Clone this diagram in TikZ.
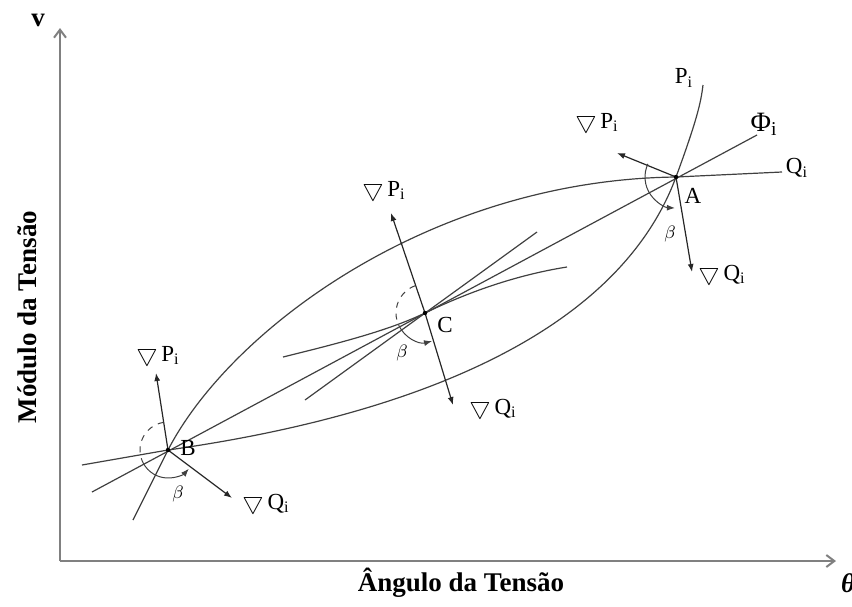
\documentclass[tikz,border=0pt]{standalone}
\usepackage{amsmath,amssymb}
\usepackage{fontspec}
\setmainfont{Liberation Serif}
\usetikzlibrary{arrows.meta,calc}

\newcommand{\gradlbl}[1]{{\large$\bigtriangledown$}\,#1\textsubscript{i}}

\begin{document}
\begin{tikzpicture}[x=0.5pt,y=-0.5pt,
  axis/.style={draw=black!50, line width=1pt, -{Straight Barb[length=4pt,width=6pt]}},
  curve/.style={draw=black!75, line width=0.6pt},
  gradarr/.style={draw=black!85, line width=0.6pt, -{Latex[length=4pt,width=3pt]}},
  ang/.style={draw=black!75, line width=0.5pt},
  angarr/.style={ang, -{Latex[length=4pt,width=3pt]}},
  lbl/.style={font=\fontsize{11.5}{13}\selectfont, inner sep=1pt},
  beta/.style={font=\fontsize{9}{10}\selectfont, inner sep=1pt},
  axlbl/.style={font=\fontsize{13.5}{16}\selectfont\bfseries, inner sep=1pt},
]
\useasboundingbox (0,0) rectangle (852,606);

% axes
\coordinate (O) at (60,561);
\coordinate (ytop) at (60,28);
\coordinate (xend) at (836,561);
\draw[axis] (O) -- (ytop);
\draw[axis] (O) -- (xend);
\node[axlbl] (v) at (38,20) {v};
\node[axlbl] (theta) at (848,583) {\itshape θ};
\node[axlbl, rotate=90] (ylab) at (27,317) {Módulo da Tensão};
\node[axlbl] (xlab) at (461,583) {Ângulo da Tensão};

% operating points
\coordinate (A) at (676,177);
\coordinate (B) at (168,450);
\coordinate (C) at (425,313);

% curves Q_i (upper) and P_i (lower), line Phi_i
\coordinate (q0) at (133,520);
\coordinate (q1) at (782,172);
\draw[curve] (q0) -- (B) .. controls (230,330) and (430,180) .. (A)
  .. controls (729,174) .. (q1);
\coordinate (p0) at (82,465);
\coordinate (p1) at (703,85);
\draw[curve] (p0) -- (B) .. controls (360,423) and (610,355) .. (A)
  .. controls (697,120) and (701,102) .. (p1);
\coordinate (phi0) at (92,492);
\coordinate (phi1) at (757,135);
\draw[curve] (phi0) -- (phi1);

% tangents at C
\coordinate (tc0) at (305,400);
\coordinate (tc1) at (537,232);
\draw[curve] (tc0) -- (tc1);
\coordinate (cc0) at (283,357);
\coordinate (cc1) at (567,267);
\draw[curve] (cc0) .. controls (340,343) and (390,330) .. (C)
  .. controls (460,296) and (510,276) .. (cc1);

% gradients
\coordinate (PA) at (617,153);
\coordinate (QA) at (692,272);
\coordinate (PB) at (156,373);
\coordinate (QB) at (232,498);
\coordinate (PC) at (391,213);
\coordinate (QC) at (453,405);
\draw[gradarr] (A) -- (PA);
\draw[gradarr] (A) -- (QA);
\draw[gradarr] (B) -- (PB);
\draw[gradarr] (B) -- (QB);
\draw[gradarr] (C) -- (PC);
\draw[gradarr] (C) -- (QC);

% angles beta
\draw[angarr] (A) ++(205:31) arc[start angle=205, end angle=92, radius=31];
\draw[ang, dashed] (B) ++(261:28) arc[start angle=261, end angle=152, radius=28];
\draw[angarr] (B) ++(152:28) arc[start angle=152, end angle=42, radius=28];
\draw[ang, dashed] (C) ++(250:29) arc[start angle=250, end angle=155, radius=29];
\draw[angarr] (C) ++(155:29) arc[start angle=155, end angle=76, radius=29];

\foreach \p in {A,B,C}
  \fill (\p) circle[radius=2.2];

% labels
\node[lbl] (lA) at (693,196) {A};
\node[lbl] (lB) at (188,448) {B};
\node[lbl] (lC) at (445,325) {C};
\node[beta] (bA) at (670,234) {$\beta$};
\node[beta] (bB) at (178,494) {$\beta$};
\node[beta] (bC) at (402,353) {$\beta$};
\node[lbl] (lPA) at (597,122) {\gradlbl{P}};
\node[lbl] (lQA) at (722,274) {\gradlbl{Q}};
\node[lbl] (lPB) at (158,355) {\gradlbl{P}};
\node[lbl] (lQB) at (266,503) {\gradlbl{Q}};
\node[lbl] (lPC) at (384,190) {\gradlbl{P}};
\node[lbl] (lQC) at (493,408) {\gradlbl{Q}};
\node[lbl] (lP) at (684,78) {P\textsubscript{i}};
\node[lbl] (lPhi) at (764,124) {\fontsize{14}{16}\selectfont Φ\textsubscript{i}};
\node[lbl] (lQ) at (797,168) {Q\textsubscript{i}};
\end{tikzpicture}
\end{document}
